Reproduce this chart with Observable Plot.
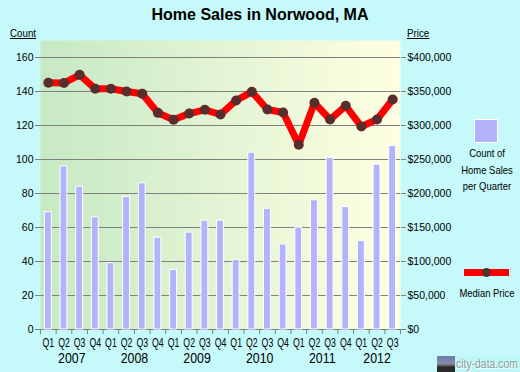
<!DOCTYPE html>
<html>
<head>
<meta charset="utf-8">
<script src="https://cdn.jsdelivr.net/npm/d3@7"></script>
<script src="https://cdn.jsdelivr.net/npm/@observablehq/plot@0.6"></script>
<style>
  html, body { margin: 0; padding: 0; }
  body { width: 520px; height: 372px; background: #c6f9f9; position: relative; overflow: hidden;
         font-family: "Liberation Sans", Arial, sans-serif; color: #000; }
  #chart { position: absolute; left: 0; top: 0; }
  .abs { position: absolute; white-space: nowrap; }
  #title { left: 0; width: 520px; top: 6px; text-align: center; font-size: 16px; font-weight: bold; }
  .axtitle { font-size: 11.5px; text-decoration: underline; top: 27px; transform: scaleX(0.85); transform-origin: left center; }
  .legtxt { font-size: 10.5px; text-align: center; width: 90px; left: 442px; line-height: 16.5px; transform: scaleX(0.9); transform-origin: center; }
</style>
</head>
<body>
<div id="chart"></div>
<div id="title" class="abs">Home Sales in Norwood, MA</div>
<div class="abs axtitle" style="left:10px;">Count</div>
<div class="abs axtitle" style="left:407px;">Price</div>
<div class="abs" style="left:474px;top:119px;width:22px;height:22px;background:#b3b3fb;border:1px solid #fff;"></div>
<div class="abs legtxt" style="top:145px;">Count of<br>Home Sales<br>per Quarter</div>
<div class="abs" style="left:464px;top:269px;width:45px;height:7px;background:#ff0000;"></div>
<div class="abs" style="left:482px;top:268px;width:9px;height:9px;border-radius:50%;background:#5a2d2d;"></div>
<div class="abs legtxt" style="top:285px;">Median Price</div>
<div class="abs" style="left:437px;top:356px;width:18px;height:16px;background:linear-gradient(#6a7fb0,#8a8aa0 50%,#2a2a2a 70%);"></div>
<div class="abs" style="left:455px;top:356px;width:65px;height:16px;background:#bdf7f7;"></div>
<div class="abs" style="left:456px;top:356px;color:#8f9f9f;font-size:13px;line-height:16px;text-shadow:1px 1px 0 #fff;transform:scaleX(0.8);transform-origin:left center;">city-data.com</div>
<script>
const quarterLabels = ["Q1","Q2","Q3","Q4","Q1","Q2","Q3","Q4","Q1","Q2","Q3","Q4",
                       "Q1","Q2","Q3","Q4","Q1","Q2","Q3","Q4","Q1","Q2","Q3"];
const quarterYears = ["2007","2007","2007","2007","2008","2008","2008","2008","2009","2009","2009","2009",
                      "2010","2010","2010","2010","2011","2011","2011","2011","2012","2012","2012"];
const yearLabels = ["2007","2008","2009","2010","2011","2012"];
const counts = [69,96,84,66, 39,78,86,54, 35,57,64,64, 41,104,71,50, 60,76,101,72, 52,97,108];
const prices = [362800,362500,374500,354000, 354000,350000,346600,318600, 308500,317600,323100,316200,
                336800,349500,323500,319100, 271600,333300,308800,329000, 298500,308800,338200];
const countTicks = [0,20,40,60,80,100,120,140,160];
const priceTicks = [0,50000,100000,150000,200000,250000,300000,350000,400000];
const pricePerCount = 2500;

const rows = counts.map((c, i) => ({
  i, q: quarterLabels[i], year: quarterYears[i], count: c,
  x1: i - 0.22, x2: i + 0.22, p: prices[i] / pricePerCount
}));
const yearGroups = yearLabels.map(y => ({
  year: y, x: d3.mean(rows.filter(r => r.year === y), r => r.i)
}));
const boundaries = d3.range(counts.length + 1).map(i => i - 0.5);
const fmt = d3.format(",");

const chart = Plot.plot({
  width: 520, height: 372,
  marginLeft: 40, marginRight: 120, marginTop: 40, marginBottom: 43,
  style: { background: "transparent", fontFamily: "Liberation Sans, Arial, sans-serif", fontSize: "10.5px", color: "#000", overflow: "visible" },
  x: { type: "linear", domain: [-0.5, counts.length - 0.5], axis: null },
  y: { domain: [0, 170], axis: null },
  marks: [
    Plot.frame({ fill: "url(#bgGrad)", stroke: "none" }),
    Plot.ruleY(countTicks, { stroke: "#808080", strokeWidth: 1 }),
    Plot.axisY({ anchor: "left", ticks: countTicks, tickSize: 5, tickPadding: 2, label: null, stroke: "#808080", fill: "#000", fontSize: 10.5 }),
    Plot.axisY({ anchor: "right", ticks: countTicks, tickSize: 5, tickPadding: 2, label: null, stroke: "#808080", fill: "#000", fontSize: 10.5,
                 tickFormat: (d, k) => "$" + fmt(priceTicks[k]) }),
    Plot.axisX({ anchor: "bottom", ticks: boundaries, tickSize: 5, tickFormat: () => "", label: null, stroke: "#808080" }),
    Plot.rectY(rows, { x1: "x1", x2: "x2", y1: 0, y2: "count", fill: "#b3b3fb", stroke: "#ffffff", strokeWidth: 1 }),
    Plot.line(rows, { x: "i", y: "p", stroke: "#ff0000", strokeWidth: 7, strokeLinejoin: "round" }),
    Plot.dot(rows, { x: "i", y: "p", r: 5, fill: "#5a2d2d", stroke: "none" }),
    Plot.text(rows, { x: "i", y: 0, text: "q", dy: 13, fontSize: 12.5, fill: "#000", lineAnchor: "middle" }),
    Plot.text(yearGroups, { x: "x", y: 0, text: "year", dy: 29, fontSize: 14.5, fill: "#000", lineAnchor: "middle" })
  ]
});

d3.select(chart).insert("defs", ":first-child").html(
  '<linearGradient id="bgGrad" x1="0" x2="1" y1="0" y2="0">' +
  '<stop offset="0" stop-color="#c6e9c4"/><stop offset="0.9" stop-color="#fafde0"/><stop offset="1" stop-color="#fdfee2"/>' +
  '</linearGradient>');
document.getElementById("chart").appendChild(chart);

// horizontally condense label glyphs to match the reference's narrow type
const qSet = new Set(quarterLabels), ySet = new Set(yearLabels);
d3.select(chart).selectAll("text").each(function () {
  const s = this.textContent;
  const k = qSet.has(s) ? 0.7 : ySet.has(s) ? 0.85 : null;
  if (k == null) return;
  const w = this.getComputedTextLength();
  this.setAttribute("textLength", (w * k).toFixed(2));
  this.setAttribute("lengthAdjust", "spacingAndGlyphs");
});
</script>
</body>
</html>
